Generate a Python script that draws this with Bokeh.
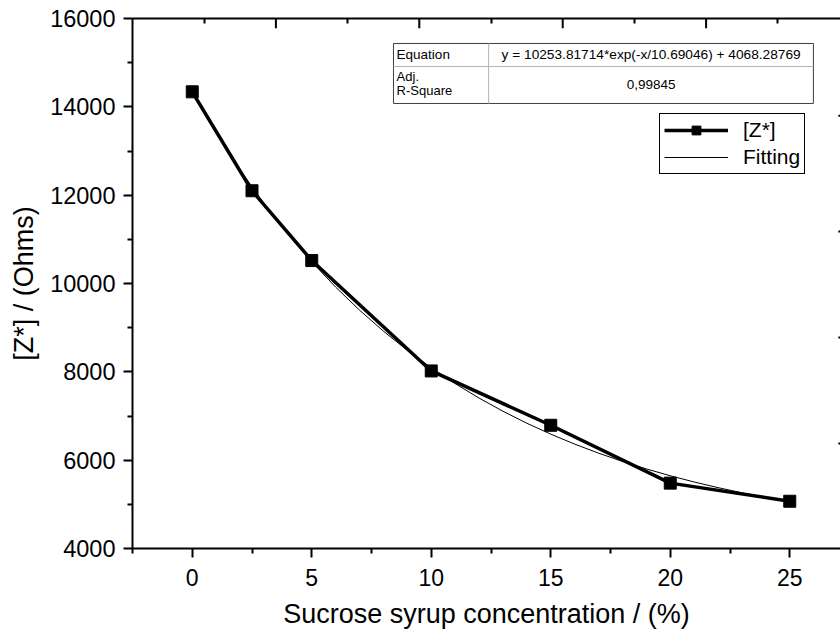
from bokeh.plotting import figure
from bokeh.models import (Range1d, LinearAxis, FixedTicker, Legend, LegendItem,
                          Label)
from bokeh.embed import file_html
from bokeh.resources import INLINE

# ---- data ----
X_PCT = [0, 2.5, 5, 10, 15, 20, 25]
Z_OHMS = [14340, 12100, 10520, 8020, 6790, 5480, 5070]

FIT_X = [0, 1, 2, 3, 4, 5, 6, 7, 8, 9, 10, 11, 12, 13, 14, 15, 16, 17, 18,
         19, 20, 21, 22, 23, 24, 25]
FIT_Y = [14322, 13406, 12573, 11813, 11121, 10492, 9918, 9396, 8920, 8487,
         8092, 7733, 7406, 7108, 6836, 6589, 6364, 6159, 5972, 5802, 5647,
         5506, 5378, 5261, 5154, 5058]

X_TICKS = [0, 5, 10, 15, 20, 25]
X_MINOR = [-2.5, 2.5, 7.5, 12.5, 17.5, 22.5]
Y_TICKS = [4000, 6000, 8000, 10000, 12000, 14000, 16000]
Y_MINOR = [5000, 7000, 9000, 11000, 13000, 15000]

EQ_LABEL = "Equation"
EQ_TEXT = "y = 10253.81714*exp(-x/10.69046) + 4068.28769"
R2_LABEL_1 = "Adj."
R2_LABEL_2 = "R-Square"
R2_TEXT = "0,99845"

X_TITLE = "Sucrose syrup concentration / (%)"
Y_TITLE = "[Z*] / (Ohms)"

FONT = "Liberation Sans"

FRAME_W = 708
X_END = -2.5 + FRAME_W / 23.9
p = figure(width=840, height=636,
           x_range=Range1d(-2.5, X_END),
           y_range=Range1d(4000, 16000),
           output_backend="svg", toolbar_location=None,
           min_border_left=132, min_border_right=0,
           min_border_top=18, min_border_bottom=88)
p.outline_line_color = None
p.xgrid.visible = False
p.ygrid.visible = False
p.background_fill_color = "white"
p.border_fill_color = "white"

# bottom axis
xa = p.xaxis[0]
xa.ticker = FixedTicker(ticks=X_TICKS, minor_ticks=X_MINOR)
xa.axis_line_width = 2
xa.major_tick_line_width = 2
xa.minor_tick_line_width = 2
xa.major_tick_in = 0
xa.major_tick_out = 9
xa.minor_tick_in = 0
xa.minor_tick_out = 5
xa.major_label_standoff = 11
xa.major_label_text_font = FONT
xa.major_label_text_font_size = "23px"
xa.major_label_text_color = "black"
xa.axis_label = X_TITLE
xa.axis_label_text_font = FONT
xa.axis_label_text_font_size = "27px"
xa.axis_label_text_font_style = "normal"
xa.axis_label_text_color = "black"
xa.axis_label_standoff = 10

# left axis
ya = p.yaxis[0]
ya.ticker = FixedTicker(ticks=Y_TICKS, minor_ticks=Y_MINOR)
ya.axis_line_width = 2
ya.major_tick_line_width = 2
ya.minor_tick_line_width = 2
ya.major_tick_in = 0
ya.major_tick_out = 9
ya.minor_tick_in = 0
ya.minor_tick_out = 5
ya.major_label_standoff = 8
ya.major_label_text_font = FONT
ya.major_label_text_font_size = "23.5px"
ya.major_label_text_color = "black"
ya.axis_label = Y_TITLE
ya.axis_label_text_font = FONT
ya.axis_label_text_font_size = "27px"
ya.axis_label_text_font_style = "normal"
ya.axis_label_text_color = "black"
ya.axis_label_standoff = 8

# top twin axis (unlabelled, ticks inward): minor ticks on the axis,
# the longer major ticks as short segments on the same twin range
TOP_SPAN = FRAME_W / 143.4
p.extra_x_ranges = {"top": Range1d(0, TOP_SPAN)}
top = LinearAxis(x_range_name="top",
                 ticker=FixedTicker(ticks=[],
                                    minor_ticks=[0.5, 1.5, 2.5, 3.5, 4.5]),
                 major_tick_in=0, major_tick_out=0,
                 minor_tick_in=5, minor_tick_out=0,
                 axis_line_width=2, minor_tick_line_width=2)
p.add_layout(top, "above")
TOP_MAJOR = [1, 2, 3, 4]
p.segment(x0=TOP_MAJOR, x1=TOP_MAJOR, y0=[16000] * 4, y1=[15780] * 4,
          x_range_name="top", color="black", line_width=2)

# stubs of the right twin axis' inward ticks, cut by the picture edge
RIGHT_TICK_Y = [13800, 11180, 8780, 6380]
p.segment(x0=[X_END - 0.09] * 4, x1=[X_END] * 4, y0=RIGHT_TICK_Y,
          y1=RIGHT_TICK_Y, color="black", line_width=2)

# data
fit_r = p.line(FIT_X, FIT_Y, line_width=1, color="black")
line_r = p.line(X_PCT, Z_OHMS, line_width=3.5, color="black")
pts_r = p.scatter(X_PCT, Z_OHMS, marker="square", size=12, color="black")

# fit-result table
p.quad(left=[8.42], right=[25.99], top=[15434], bottom=[14076],
       fill_color="white", line_color="#404040", line_width=1)
p.segment(x0=[8.42, 12.40], y0=[14913, 15434], x1=[25.99, 12.40],
          y1=[14913, 14076], color="#b5b5b5", line_width=1)
for x, y, t, al, fs in [(8.55, 15180, EQ_LABEL, "left", "13.5px"),
                        (19.2, 15180, EQ_TEXT, "center", "13.7px"),
                        (8.55, 14690, R2_LABEL_1, "left", "13px"),
                        (8.55, 14380, R2_LABEL_2, "left", "13px"),
                        (19.2, 14510, R2_TEXT, "center", "13.5px")]:
    p.add_layout(Label(x=x, y=y, text=t, text_align=al,
                       text_baseline="middle", text_font=FONT,
                       text_font_size=fs, text_color="black"))

legend = Legend(items=[LegendItem(label="[Z*]", renderers=[line_r, pts_r]),
                       LegendItem(label="Fitting", renderers=[fit_r])],
                location=(527, 374), margin=0, padding=4, spacing=3,
                glyph_width=64, glyph_height=22, label_standoff=15,
                label_text_font=FONT, label_text_font_size="21px",
                label_text_color="black",
                border_line_color="black", border_line_width=1,
                border_line_alpha=1, background_fill_alpha=1)
p.add_layout(legend)

open("out.html", "w").write(file_html(p, INLINE))
